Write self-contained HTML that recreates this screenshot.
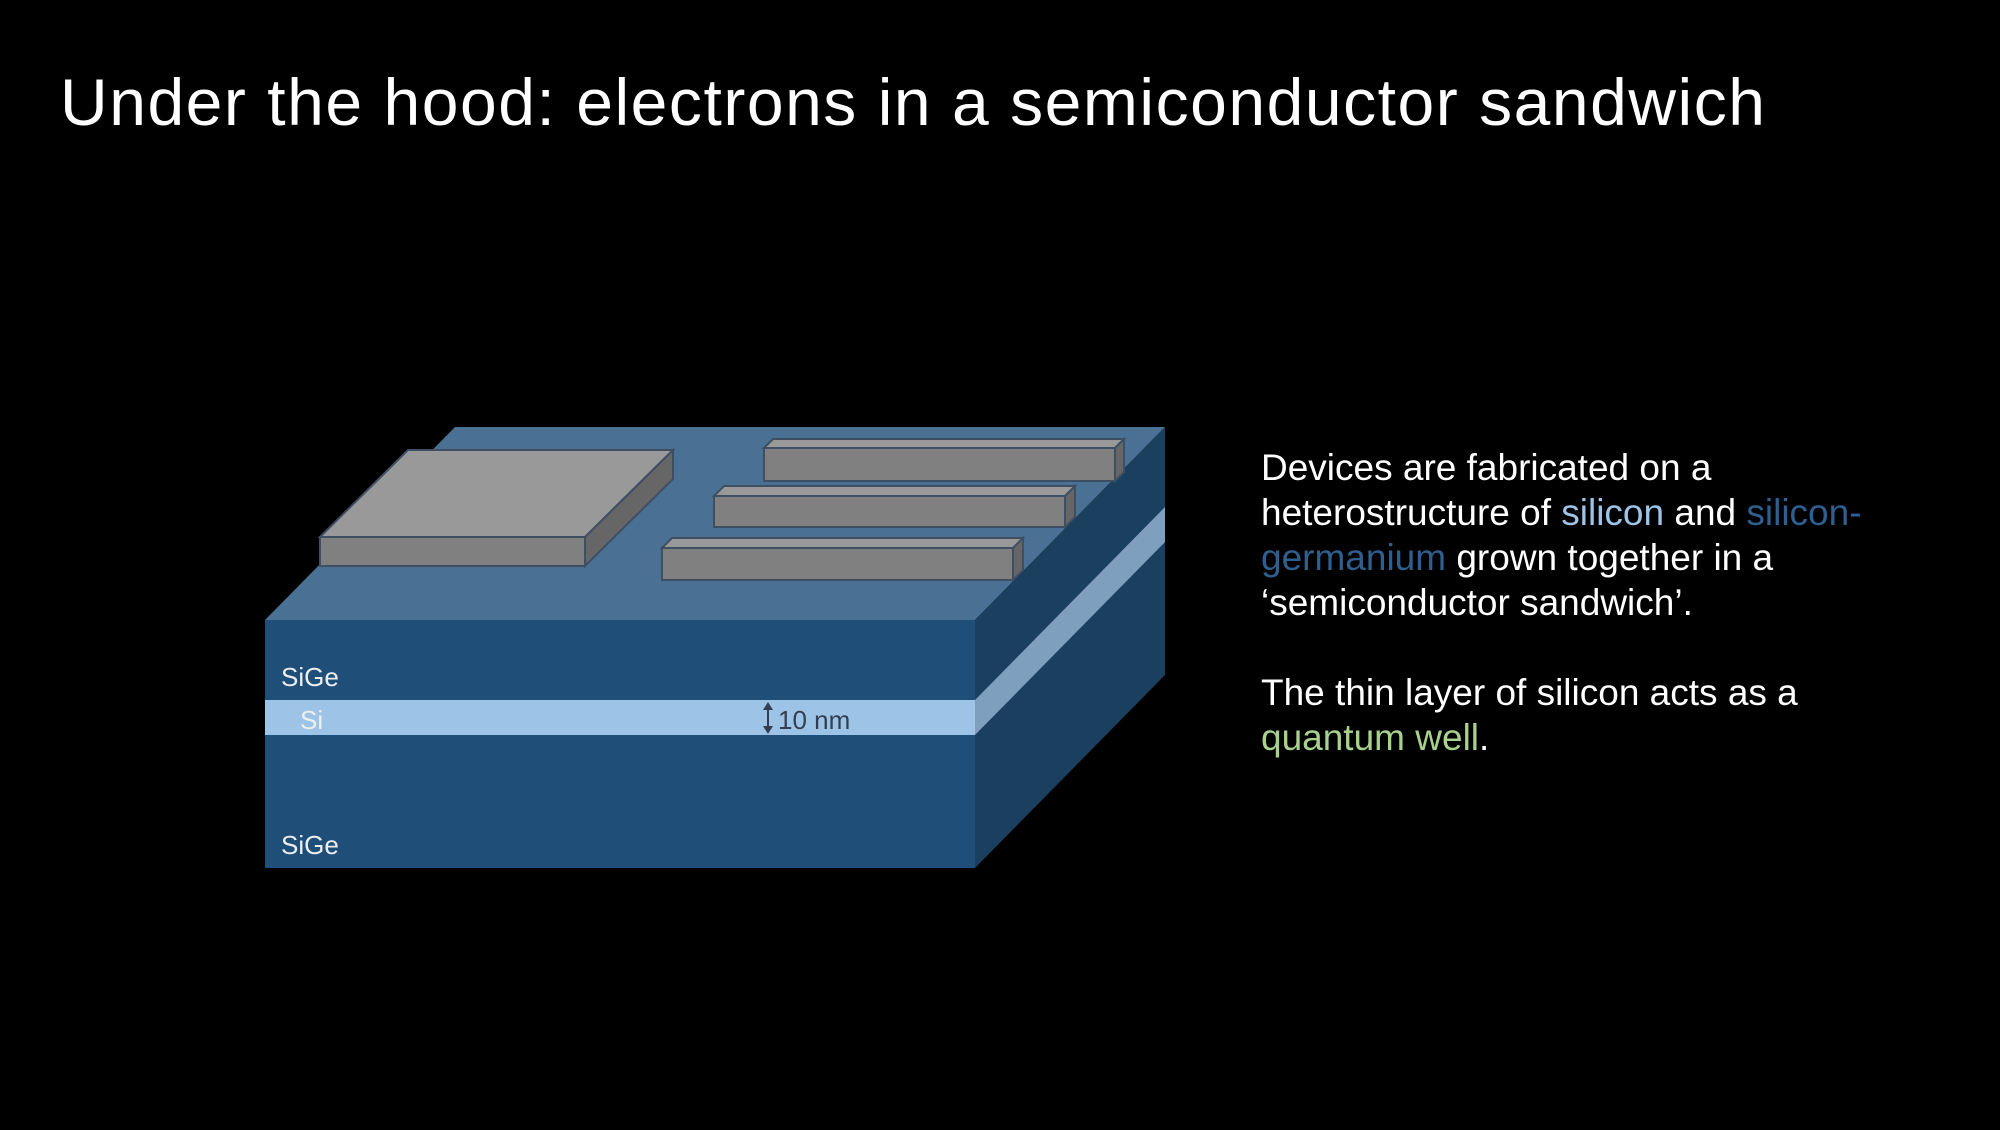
<!DOCTYPE html>
<html><head><meta charset="utf-8"><style>
html,body{margin:0;padding:0;background:#000;}
body{width:2000px;height:1125px;overflow:hidden;position:relative;font-family:"Liberation Sans",sans-serif;}
</style></head><body>
<svg width="2000" height="1125" viewBox="0 0 2000 1125">
<rect width="2000" height="1125" fill="#000"/>
<text x="60" y="125" font-size="66" textLength="1705" lengthAdjust="spacing" fill="#fff">Under the hood: electrons in a semiconductor sandwich</text>
<g>
 <polygon points="265,620 455,427 1165,427 975,620" fill="#4a7094"/>
 <polygon points="975,620 1165,427 1165,675 975,868" fill="#1a3f5f"/>
 <polygon points="975,700 1165,507 1165,542 975,735" fill="#7f9fbf"/>
 <rect x="265" y="620" width="710" height="248" fill="#1f4e79"/>
 <rect x="265" y="700" width="710" height="35" fill="#9dc3e6"/>
 <g stroke="#3f4f63" stroke-width="2">
  <polygon points="320,537 408,450 673,450 585,537" fill="#999"/>
  <polygon points="585,537 673,450 673,479 585,566" fill="#666"/>
  <rect x="320" y="537" width="265" height="29" fill="#808080"/>
 </g>
 <g stroke="#3f4f63" stroke-width="2">
  <polygon points="764,448 773,439 1124,439 1115,448" fill="#999"/>
  <polygon points="1115,448 1124,439 1124,472 1115,481" fill="#666"/>
  <rect x="764" y="448" width="351" height="33" fill="#808080"/>
 </g>
 <g stroke="#3f4f63" stroke-width="2">
  <polygon points="714,496 724,486 1075,486 1065,496" fill="#999"/>
  <polygon points="1065,496 1075,486 1075,517 1065,527" fill="#666"/>
  <rect x="714" y="496" width="351" height="31" fill="#808080"/>
 </g>
 <g stroke="#3f4f63" stroke-width="2">
  <polygon points="662,548 672,538 1023,538 1013,548" fill="#999"/>
  <polygon points="1013,548 1023,538 1023,570 1013,580" fill="#666"/>
  <rect x="662" y="548" width="351" height="32" fill="#808080"/>
 </g>
 <text x="281" y="686" font-size="26" fill="#eee">SiGe</text>
 <text x="300" y="729" font-size="26" fill="#eee">Si</text>
 <text x="281" y="854" font-size="26" fill="#eee">SiGe</text>
 <g fill="#333f50" stroke="#333f50">
  <line x1="768" y1="708" x2="768" y2="728" stroke-width="2"/>
  <polygon points="763,710 773,710 768,702" stroke="none"/>
  <polygon points="763,726 773,726 768,734" stroke="none"/>
 </g>
 <text x="778" y="729" font-size="26" fill="#333f50">10 nm</text>
</g>
<g font-size="37" fill="#fff">
 <text x="1261" y="480">Devices are fabricated on a</text>
 <text x="1261" y="525">heterostructure of <tspan fill="#9dc3e6">silicon</tspan> and <tspan fill="#2e5f8f">silicon-</tspan></text>
 <text x="1261" y="570"><tspan fill="#2e5f8f">germanium</tspan> grown together in a</text>
 <text x="1261" y="615">‘semiconductor sandwich’.</text>
 <text x="1261" y="705">The thin layer of silicon acts as a</text>
 <text x="1261" y="750"><tspan fill="#a9d18e">quantum well</tspan>.</text>
</g>
</svg>
</body></html>
